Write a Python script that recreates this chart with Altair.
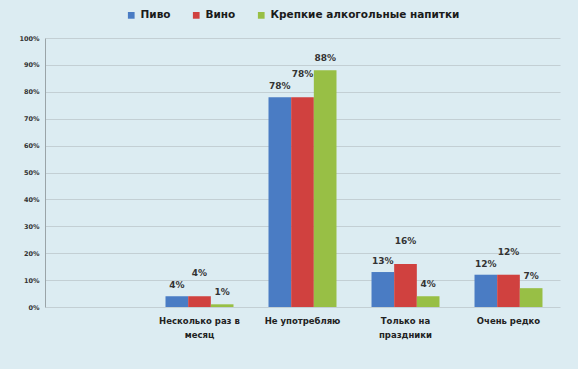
import altair as alt
import pandas as pd

categories = [" ", "Несколько раз в месяц", "Не употребляю", "Только на праздники", "Очень редко"]
series = ["Пиво", "Вино", "Крепкие алкогольные напитки"]
beer = [None, 4, 78, 13, 12]
wine = [None, 4, 78, 16, 12]
spirits = [None, 1, 88, 4, 7]
colors = ["#4A7CC4", "#D0413F", "#98BF45"]
tick_values = [0, 0.1, 0.2, 0.3, 0.4, 0.5, 0.6, 0.7, 0.8, 0.9, 1.0]
wrapped = {
    "Несколько раз в месяц": ["Несколько раз в", "месяц"],
    "Только на праздники": ["Только на", "праздники"],
}

rows = []
for s, vals in zip(series, [beer, wine, spirits]):
    for c, v in zip(categories, vals):
        if v is not None:
            rows.append({"cat": c, "series": s, "value": v / 100, "label": f"{v}%"})
df = pd.DataFrame(rows)

label_expr = " : ".join(
    [f"datum.label == '{k}' ? {v!r}" for k, v in wrapped.items()] + ["datum.label"]
)

FONT = "DejaVu Sans"
x_scale = alt.Scale(domain=categories, paddingInner=0.34, paddingOuter=0.17)
x_axis = alt.Axis(title=None, labelAngle=0, ticks=False, domain=False,
                  labelExpr=label_expr, labelFont=FONT, labelFontSize=8.5,
                  labelFontWeight="bold", labelColor="#222222", labelPadding=9,
                  labelLineHeight=14)
y_scale = alt.Scale(domain=[0, 1])
y_axis = alt.Axis(title=None, format=".0%", values=tick_values,
                  grid=True, gridColor="#c3cfd4", domainColor="#9aa4a8",
                  ticks=False, labelOverlap=False, labelFont=FONT, labelFontSize=6.5,
                  labelFontWeight="bold", labelColor="#333333", labelPadding=6)
xoff = alt.XOffset("series:N", sort=series, scale=alt.Scale(domain=series, paddingInner=0))

base = alt.Chart(df)
bars = base.mark_bar().encode(
    x=alt.X("cat:N", scale=x_scale, axis=x_axis),
    xOffset=xoff,
    y=alt.Y("value:Q", scale=y_scale, axis=y_axis),
    color=alt.Color("series:N", sort=series,
                    scale=alt.Scale(domain=series, range=colors),
                    legend=alt.Legend(title=None, orient="none", direction="horizontal",
                                      legendX=81, legendY=-28, symbolType="square",
                                      symbolSize=45, labelFont=FONT, labelFontSize=10.5,
                                      labelFontWeight="bold", labelColor="#1a1a1a",
                                      labelLimit=400, columnPadding=20, symbolOffset=0,
                                      labelOffset=4)),
)

dys = {"Пиво": -6, "Вино": -18, "Крепкие алкогольные напитки": -7}
texts = []
for s in series:
    t = base.transform_filter(alt.datum.series == s).mark_text(
        dy=dys[s], baseline="bottom", font=FONT, fontSize=9, fontWeight="bold",
        color="#333333"
    ).encode(
        x=alt.X("cat:N", scale=x_scale, axis=x_axis),
        xOffset=xoff,
        y=alt.Y("value:Q", scale=y_scale, axis=y_axis),
        text="label:N",
    )
    texts.append(t)

chart = alt.layer(bars, *texts).properties(
    width=515, height=269,
    autosize=alt.AutoSizeParams(type="none"),
    padding={"left": 45, "top": 38, "right": 18, "bottom": 62},
    background="#dcecf2",
).configure_view(stroke=None)

chart.save("out.html", embed_options={"renderer": "svg", "actions": False})
